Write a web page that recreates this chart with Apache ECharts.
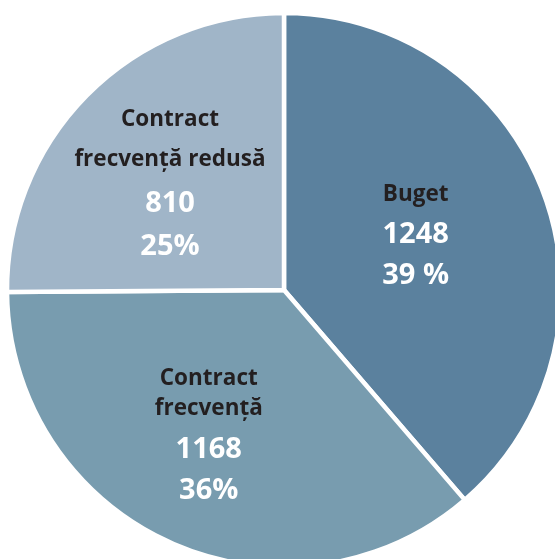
<!DOCTYPE html>
<html><head><meta charset="utf-8">
<script src="https://cdn.jsdelivr.net/npm/echarts@6/dist/echarts.min.js"></script>
<style>html,body{margin:0;padding:0;background:#fff}#c{width:555px;height:559px}</style>
</head><body><div id="c"></div>
<script>
const names = ["Buget", "Contract\nfrecvență", "Contract\nfrecvență redusă"];
const values = [1248, 1168, 810];
const pctLabels = ["39 %", "36%", "25%"];
const colors = ["#5b819e", "#789caf", "#a0b5c8"];

// label layout tweaks (not data)
const labelOffsets = [[-1, -5.6], [-16.7, 16.2], [-13.6, -7.6]];
const richKeys = [["n40", "v41", "v41"], ["n30", "v52", "v30"], ["n40", "v49", "v37"]];

const chart = echarts.init(document.getElementById('c'), null, {renderer: 'canvas'});
const data = names.map((n, i) => ({
  name: n, value: values[i],
  itemStyle: {color: colors[i]},
  label: {
    offset: labelOffsets[i],
    formatter: n.split("\n").map(s => "{" + richKeys[i][0] + "|" + s + "}").join("\n") +
      "\n{" + richKeys[i][1] + "|" + values[i] + "}\n{" + richKeys[i][2] + "|" + pctLabels[i] + "}"
  }
}));
const nameBase = {fontFamily: 'Open Sans', fontSize: 22.5, fontWeight: 'bold', color: '#231f20', align: 'center'};
const valBase = {fontFamily: 'Open Sans', fontSize: 29, fontWeight: 'bold', color: '#ffffff', align: 'center'};
const rich = {};
[40, 30].forEach(h => rich["n" + h] = Object.assign({lineHeight: h}, nameBase));
[41, 52, 30, 49, 37].forEach(h => rich["v" + h] = Object.assign({lineHeight: h}, valBase));
chart.setOption({
  animation: false,
  series: [{
    type: 'pie',
    center: [284, 290],
    radius: [0, 277],
    startAngle: 90,
    clockwise: true,
    data: data,
    itemStyle: {borderColor: '#ffffff', borderWidth: 4.5},
    label: {position: 'inside', fontFamily: 'Open Sans', rich: rich},
    labelLine: {show: false},
    emphasis: {disabled: true}
  }]
});
</script></body></html>
